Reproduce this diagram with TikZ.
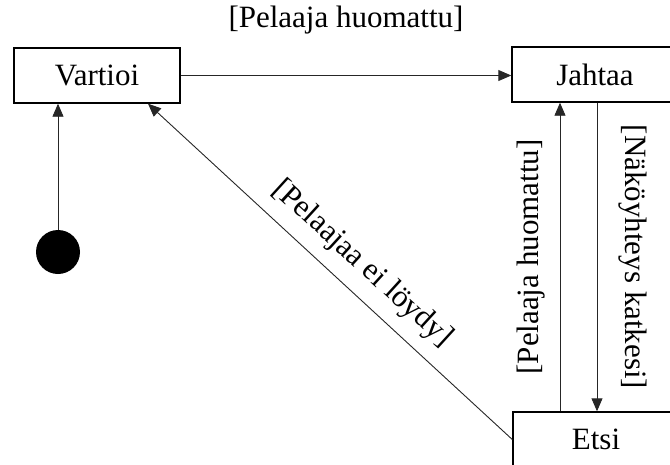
\documentclass[tikz,border=0pt]{standalone}
\usepackage{fontspec}
\setmainfont{Liberation Serif}
\usetikzlibrary{arrows.meta}
\begin{document}
\begin{tikzpicture}[x=1pt,y=-1pt,
  state/.style={draw,line width=1.4pt,minimum width=166pt,minimum height=55pt,inner sep=0pt,font=\fontsize{31}{36}\selectfont},
  trans/.style={draw=black!85,line width=0.9pt,-{Triangle[length=13pt,width=11pt]}},
  guard/.style={font=\fontsize{31}{36}\selectfont,inner sep=0pt}]
  \useasboundingbox (0,0) rectangle (670,464);
  % states
  \node[state] (V) at (97,75.5) {Vartioi};
  \node[state] (J) at (595,74.5) {Jahtaa};
  \node[state] (E) at (596,439.5) {Etsi};
  % initial state
  \node[circle,fill=black,minimum size=44pt,inner sep=0pt] (S) at (58,252) {};
  % transitions
  \draw[trans] (S.north) -- (S.north |- V.south);
  \draw[trans] (V.east) -- (V.east -| J.west);
  \draw[trans] ([xshift=-36pt]E.north) -- ([xshift=-36pt]E.north |- J.south);
  \draw[trans] ([xshift=2pt]J.south) -- ([xshift=2pt]J.south |- E.north);
  \draw[trans] (E.west) -- ([xshift=51pt]V.south);
  % guards
  \node[guard] (g1) at (346,20) {[Pelaaja huomattu]};
  \node[guard,rotate=90] (g2) at (531,257) {[Pelaaja huomattu]};
  \node[guard,rotate=-90] (g3) at (633,257) {[Näköyhteys katkesi]};
  \node[guard,rotate=-42.4] (g4) at (362,264) {[Pelaajaa ei löydy]};
\end{tikzpicture}
\end{document}
